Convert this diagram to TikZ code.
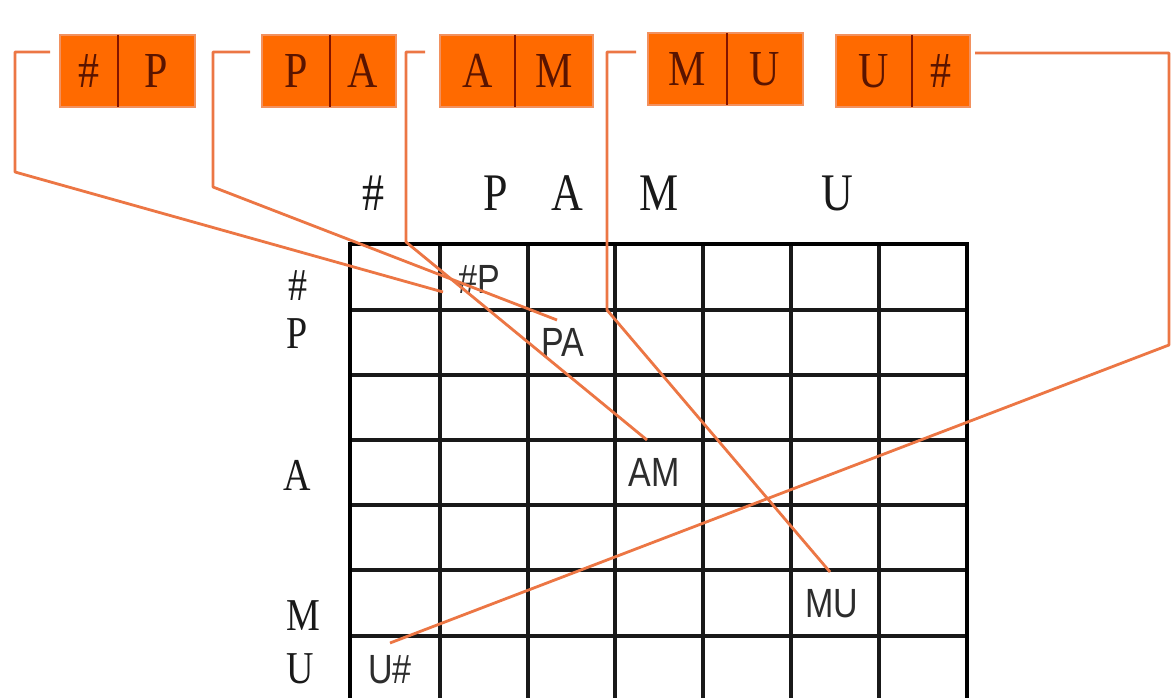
\documentclass[tikz,border=0pt]{standalone}
\usepackage{fontspec}
\setmainfont{Liberation Serif}
\newfontfamily\lsans{Liberation Sans}
\usepackage{graphicx}
\definecolor{boxfill}{RGB}{255,106,0}
\definecolor{boxline}{RGB}{242,145,95}
\definecolor{divline}{RGB}{130,20,0}
\definecolor{boxtext}{RGB}{90,20,0}
\definecolor{connclr}{RGB}{236,118,68}
\definecolor{celltext}{RGB}{45,45,45}
\definecolor{lbltext}{RGB}{25,25,25}
\newcommand{\vst}[1]{\scalebox{1}[1.2]{#1}}
\begin{document}
\begin{tikzpicture}[x=1pt,y=-1pt,
  half/.style={fill=boxfill, minimum height=72pt, inner sep=0pt, text=boxtext,
    font=\fontsize{42}{42}\selectfont},
  boxedge/.style={draw=boxline, line width=1.5pt},
  divider/.style={draw=divline, line width=2pt},
  hdr/.style={anchor=base, inner sep=0pt, text=lbltext, font=\fontsize{44}{44}\selectfont},
  rowlbl/.style={anchor=base, inner sep=0pt, text=lbltext, font=\fontsize{38}{38}\selectfont},
  celllbl/.style={anchor=base, inner sep=0pt, text=celltext, font=\lsans\fontsize{34}{34}\selectfont},
  gridin/.style={draw=black!90, line width=3.2pt},
  gridout/.style={draw=black, line width=4.2pt, line join=miter},
  connst/.style={draw=connclr, line width=2.8pt, line join=round}]
\useasboundingbox (0,0) rectangle (1171,698);
\fill[white] (0,0) rectangle (1171,698);

% grid
\foreach \x in {440,528,615,703,791,879} \draw[gridin] (\x,244) -- (\x,698);
\foreach \y in {310,375,440,505,570,636} \draw[gridin] (350,\y) -- (967,\y);
\draw[gridout] (350,698) -- (350,244) -- (967,244) -- (967,698);

% boxes
\node[half, minimum width=58pt] (b1a) at (89,71) {\vst{\#}};
\node[half, minimum width=77pt] (b1b) at (156.5,71) {\vst{P}};
\node[half, minimum width=68pt] (b2a) at (296,71) {\vst{P}};
\node[half, minimum width=66pt] (b2b) at (363,71) {\vst{A}};
\node[half, minimum width=75pt] (b3a) at (477.5,71) {\vst{A}};
\node[half, minimum width=78pt] (b3b) at (554,71) {\vst{M}};
\node[half, minimum width=79pt] (b4a) at (687.5,69) {\vst{M}};
\node[half, minimum width=76pt] (b4b) at (765,69) {\vst{U}};
\node[half, minimum width=76pt] (b5a) at (874,71) {\vst{U}};
\node[half, minimum width=58pt] (b5b) at (941,71) {\vst{\#}};
\foreach \b in {b1,b2,b3,b4,b5} {
  \draw[boxedge] (\b a.north west) rectangle (\b b.south east);
  \draw[divider] (\b a.north east) -- (\b a.south east);
}

% header letters
\node[hdr] (h1) at (373,211) {\vst{\#}};
\node[hdr] (h2) at (496,211) {\vst{P}};
\node[hdr] (h3) at (567,211) {\vst{A}};
\node[hdr] (h4) at (659,211) {\vst{M}};
\node[hdr] (h5) at (837,211) {\vst{U}};

% row labels
\node[rowlbl] (r1) at (298,300) {\vst{\#}};
\node[rowlbl] (r2) at (297,348) {\vst{P}};
\node[rowlbl] (r3) at (297,490) {\vst{A}};
\node[rowlbl] (r4) at (303,630) {\vst{M}};
\node[rowlbl] (r5) at (300,683) {\vst{U}};

% cell labels
\node[celllbl] (c1) at (479,293) {\vst{\#P}};
\node[celllbl] (c2) at (563,356) {\vst{PA}};
\node[celllbl] (c3) at (654,486) {\vst{AM}};
\node[celllbl] (c4) at (832,617) {\vst{MU}};
\node[celllbl] (c5) at (390,683) {\vst{U\#}};

% connector points
\coordinate (s1) at (50,52);  \coordinate (k1) at (15,52);   \coordinate (m1) at (15,172);   \coordinate (e1) at (443,292);
\coordinate (s2) at (250,52); \coordinate (k2) at (213,52);  \coordinate (m2) at (213,187);  \coordinate (e2) at (557,320);
\coordinate (s3) at (425,52); \coordinate (k3) at (406,52);  \coordinate (m3) at (406,242);  \coordinate (e3) at (647,440);
\coordinate (s4) at (636,52); \coordinate (k4) at (607,52);  \coordinate (m4) at (607,310);  \coordinate (e4) at (830,572);
\coordinate (s5) at (975,53); \coordinate (k5) at (1169,53); \coordinate (m5) at (1169,345); \coordinate (e5) at (390,643);

\foreach \i in {1,...,5} \draw[connst] (s\i) -- (k\i) -- (m\i) -- (e\i);
\end{tikzpicture}
\end{document}
